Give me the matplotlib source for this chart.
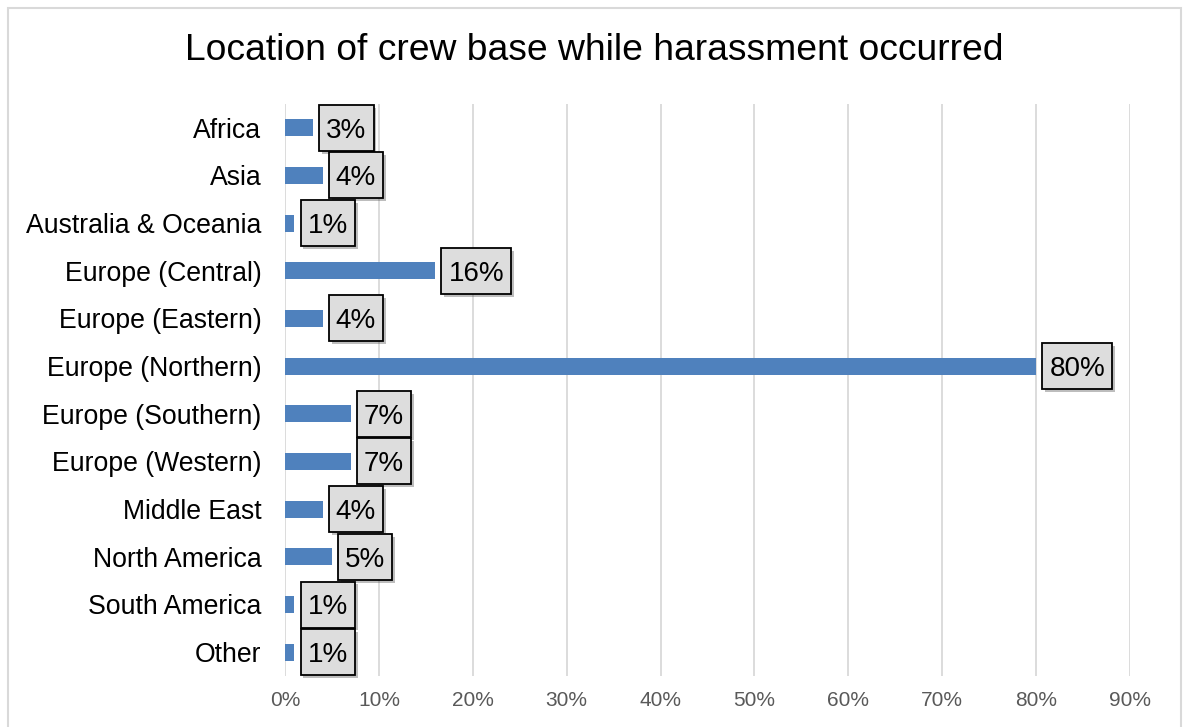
import matplotlib.pyplot as plt
import matplotlib.patheffects as pe
from matplotlib.patches import Rectangle
from matplotlib.path import Path
from matplotlib.ticker import FuncFormatter, MultipleLocator

plt.rcParams["font.family"] = ["Liberation Sans", "DejaVu Sans"]

regions = [
    "Africa", "Asia", "Australia & Oceania", "Europe (Central)",
    "Europe (Eastern)", "Europe (Northern)", "Europe (Southern)",
    "Europe (Western)", "Middle East", "North America", "South America", "Other",
]
shares = [0.03, 0.04, 0.01, 0.16, 0.04, 0.80, 0.07, 0.07, 0.04, 0.05, 0.01, 0.01]


def label_box(x0, y0, width, height, mutation_size):
    # extra room above so the digits sit in the middle of the box
    px, pt, pb = 0.25 * mutation_size, 0.46 * mutation_size, 0.26 * mutation_size
    x1, y1 = x0 + width + px, y0 + height + pt
    x0, y0 = x0 - px, y0 - pb
    return Path([(x0, y0), (x1, y0), (x1, y1), (x0, y1), (x0, y0)],
                closed=True)


W, H = 1184, 727
fig = plt.figure(figsize=(W / 100, H / 100), dpi=100)
ax = fig.add_axes([285 / W, 1 - 676 / H, (1130 - 285) / W, (676 - 104) / H])

ypos = list(range(len(regions)))
ax.barh(ypos, shares, height=0.36, color="#4f81bd", zorder=3)
ax.set_ylim(len(regions) - 0.5, -0.5)
ax.set_yticks(ypos)
ax.set_yticklabels(regions, fontsize=19.2, color="black")
ax.set_xlim(0, 0.9)
ax.xaxis.set_major_locator(MultipleLocator(0.1))
ax.xaxis.set_major_formatter(FuncFormatter(lambda v, _: f"{v * 100:.0f}%"))
ax.tick_params(axis="x", labelsize=15, labelcolor="#595959", length=0, pad=11)
ax.tick_params(axis="y", length=0, pad=17)
ax.grid(axis="x", color="#d9d9d9", linewidth=1.3, zorder=0)
for s in ax.spines.values():
    s.set_visible(False)

for y, v in zip(ypos, shares):
    ax.annotate(
        f"{v * 100:.0f}%", xy=(v, y), xytext=(9.5, -2), textcoords="offset points",
        ha="left", va="center", fontsize=20, zorder=5,
        bbox=dict(boxstyle=label_box, facecolor="#dddddd",
                  edgecolor="black", linewidth=1.3,
                  path_effects=[pe.withSimplePatchShadow(offset=(2, -2), alpha=0.35)]),
    )

fig.text(594 / W, 1 - 50 / H, "Location of crew base while harassment occurred",
         ha="center", va="center", fontsize=26.8)

fig.patches.append(Rectangle((8 / W, -0.05), (1181 - 8) / W, 1.05 - 8 / H,
                             transform=fig.transFigure, fill=False,
                             edgecolor="#d9d9d9", linewidth=1.5))

fig.savefig("out.png", dpi=100)
